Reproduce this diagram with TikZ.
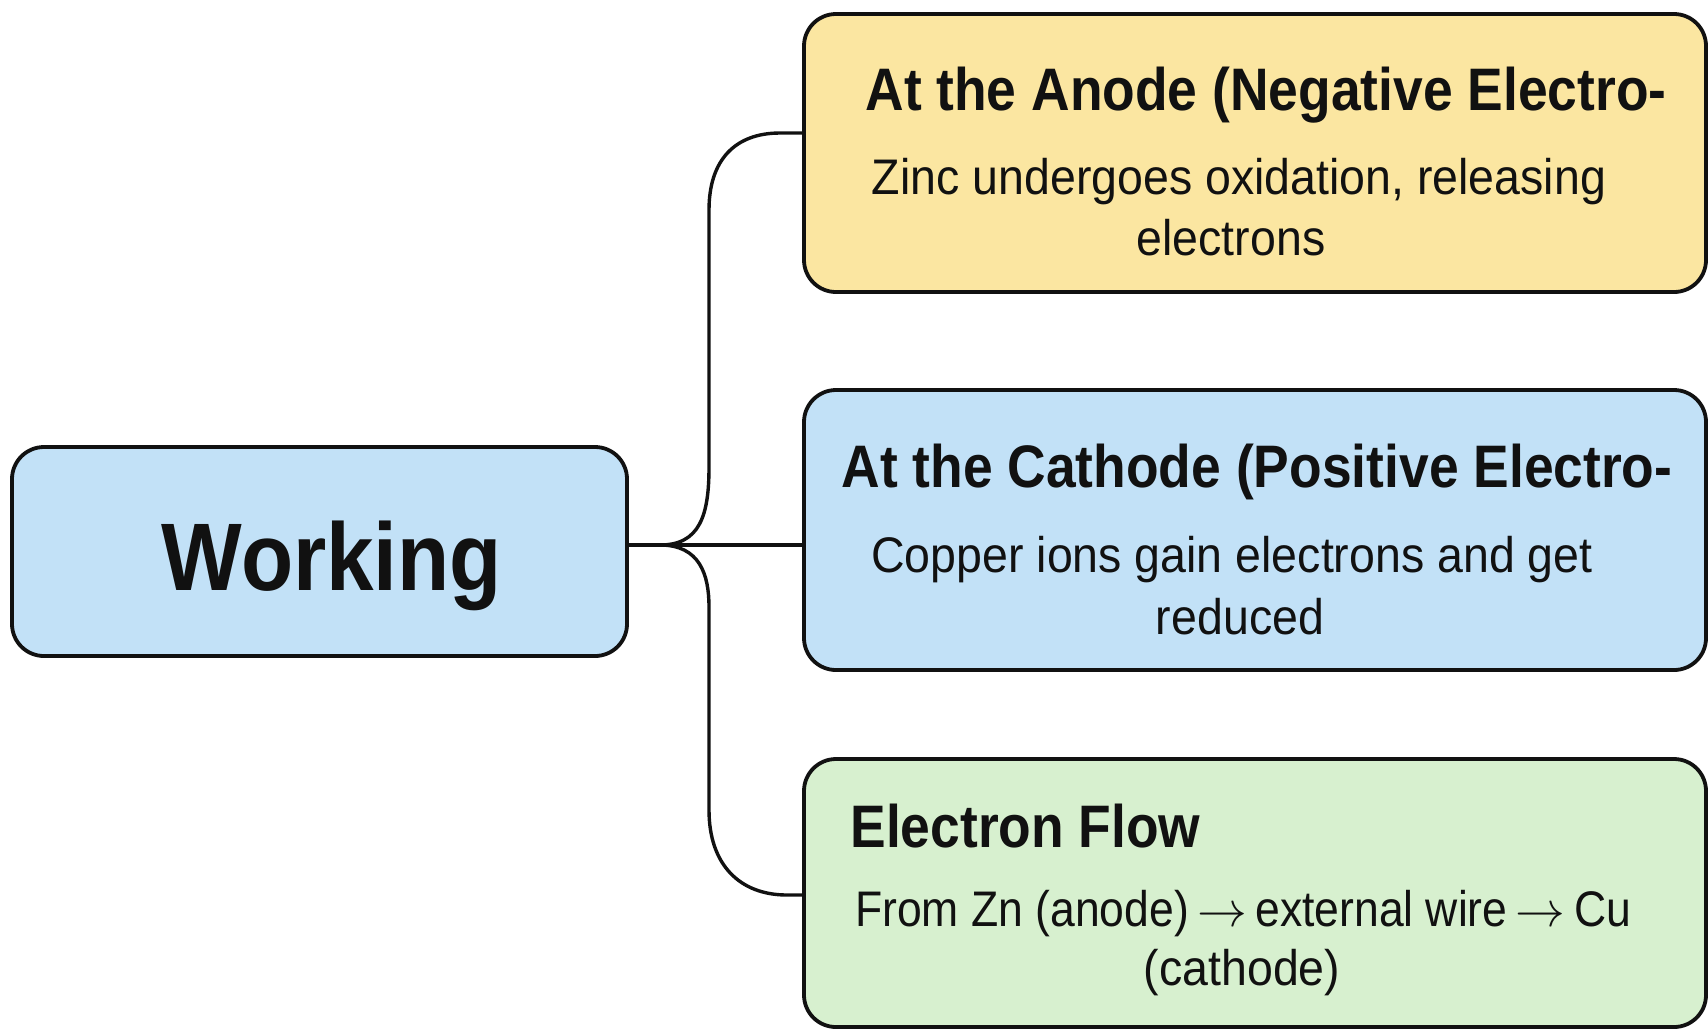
\documentclass[tikz,border=0pt]{standalone}
\usepackage{fontspec}
\setmainfont{Liberation Sans}
\newfontfamily\titlefont[FakeStretch=0.89]{Liberation Sans}
\newfontfamily\bodyfont[FakeStretch=0.93]{Liberation Sans}
\newfontfamily\narrowbody[FakeStretch=0.89]{Liberation Sans}
\definecolor{ylw}{RGB}{251,230,161}
\definecolor{blu}{RGB}{194,225,247}
\definecolor{grn}{RGB}{215,240,207}
\definecolor{ink}{RGB}{17,17,17}
\newcommand{\flowarrow}{\,$\rightarrow$\,}
\tikzset{
  card/.style={draw=ink, line width=1.9pt, rounded corners=16pt, inner sep=0pt},
  ttl/.style={anchor=base, inner sep=0pt, text=ink, font=\titlefont\bfseries\fontsize{30}{34}\selectfont},
  bdy/.style={anchor=base, inner sep=0pt, text=ink, font=\bodyfont\fontsize{25}{30}\selectfont},
  link/.style={draw=ink, line width=1.7pt}
}
\begin{document}
\begin{tikzpicture}[x=0.5pt,y=-0.5pt]
\useasboundingbox[fill=white] (0,0) rectangle (1708,1030);
% boxes
\node[card, fill=blu, minimum width=307.5pt, minimum height=104.5pt] (W) at (319.5,551.5) {};
\node[card, fill=ylw, minimum width=451pt, minimum height=139pt] (A) at (1255,153) {};
\node[card, fill=blu, minimum width=451pt, minimum height=140pt] (C) at (1255,530) {};
\node[card, fill=grn, minimum width=451pt, minimum height=134pt] (E) at (1255,893) {};
% texts
\node[anchor=base, inner sep=0pt, text=ink, font=\titlefont\bfseries\fontsize{48}{52}\selectfont] (wt) at (332,590) {Working};
\node[ttl] (at) at (1266,110) {At the Anode (Negative Electro-};
\node[ttl] (ct) at (1257,487) {At the Cathode (Positive Electro-};
\node[ttl, anchor=base west] (et) at (850,847) {Electron Flow};
\node[bdy] (ab1) at (1239,194) {Zinc undergoes oxidation, releasing};
\node[bdy] (ab2) at (1231,255) {electrons};
\node[bdy] (cb1) at (1232,572) {Copper ions gain electrons and get};
\node[bdy] (cb2) at (1240,634) {reduced};
\node[bdy, font=\narrowbody\fontsize{25}{30}\selectfont] (eb1) at (1243,926) {From Zn (anode)\flowarrow external wire\flowarrow Cu};
\node[bdy] (eb2) at (1242,985) {(cathode)};
% connectors
\coordinate (j) at (W.east |- 0,545);
\coordinate (ja) at (A.west |- 0,133);
\coordinate (jc) at (C.west |- 0,545);
\coordinate (je) at (E.west |- 0,895);
\draw[link] (j) -- (jc);
\draw[link] (j) -- (660,545) .. controls (700,545) and (709,515) .. (709,467)
  -- (709,210) .. controls (709,160) and (735,133) .. (780,133) -- (ja);
\draw[link] (660,545) .. controls (700,545) and (709,575) .. (709,607)
  -- (709,810) .. controls (709,865) and (740,895) .. (787,895) -- (je);
\end{tikzpicture}
\end{document}
